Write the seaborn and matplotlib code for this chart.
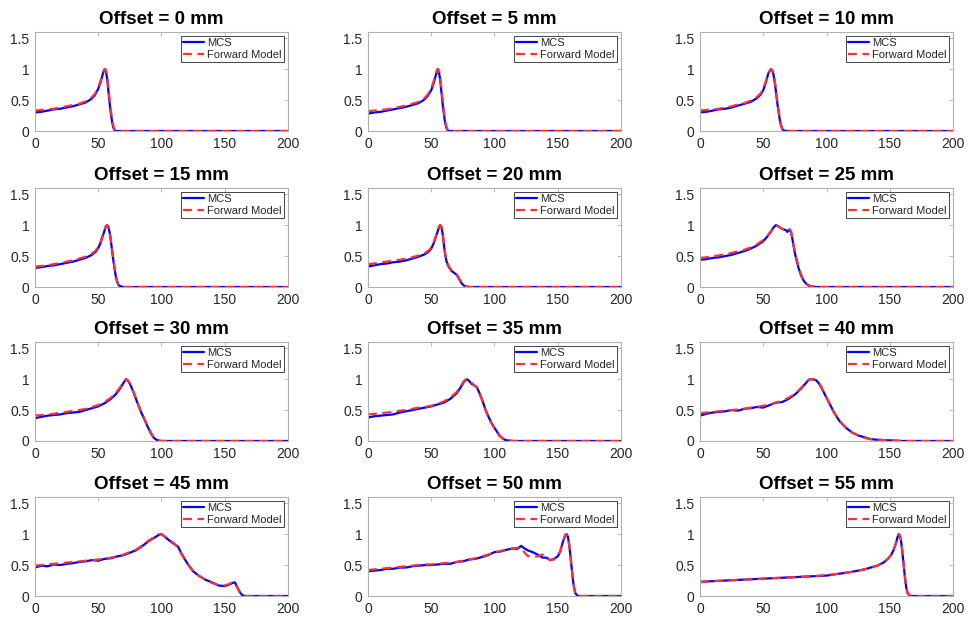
import numpy as np
import pandas as pd
import matplotlib
matplotlib.use("Agg")
import matplotlib.pyplot as plt
import seaborn as sns

sns.set_theme(style="white")
plt.rcParams["font.family"] = ["Liberation Sans", "DejaVu Sans"]

# Depth-dose profiles (depth in mm) for each lateral offset
offsets = [0, 5, 10, 15, 20, 25, 30, 35, 40, 45, 50, 55]

x0 = [0, 5, 10, 15, 20, 25, 30, 35, 40, 44, 47, 50, 52, 54, 55, 56, 57, 58, 59, 60, 61, 62, 63, 64, 66, 70, 100, 150, 200]
mcs0 = [0.30, 0.31, 0.33, 0.35, 0.36, 0.38, 0.40, 0.43, 0.46, 0.51, 0.57, 0.68, 0.80, 0.95, 1.00, 0.97, 0.85, 0.65, 0.45, 0.28, 0.14, 0.05, 0.01, 0, 0, 0, 0, 0, 0]
fm0 = [0.33, 0.34, 0.35, 0.36, 0.38, 0.40, 0.42, 0.44, 0.48, 0.53, 0.59, 0.70, 0.82, 0.96, 1.00, 0.99, 0.90, 0.72, 0.52, 0.33, 0.18, 0.08, 0.02, 0.005, 0, 0, 0, 0, 0]

x5 = [0, 5, 10, 15, 20, 25, 30, 35, 40, 44, 47, 50, 52, 54, 55, 56, 57, 58, 59, 60, 61, 62, 63, 64, 66, 100, 200]
mcs5 = [0.28, 0.30, 0.31, 0.33, 0.35, 0.37, 0.39, 0.42, 0.45, 0.50, 0.56, 0.66, 0.78, 0.93, 1.00, 0.96, 0.84, 0.64, 0.44, 0.27, 0.13, 0.05, 0.01, 0, 0, 0, 0]
fm5 = [0.32, 0.33, 0.34, 0.35, 0.37, 0.39, 0.41, 0.44, 0.47, 0.52, 0.58, 0.69, 0.81, 0.95, 1.00, 0.99, 0.89, 0.70, 0.50, 0.32, 0.17, 0.07, 0.02, 0.005, 0, 0, 0]

x10 = [0, 5, 10, 15, 20, 25, 30, 35, 40, 45, 48, 50, 52, 54, 56, 57, 58, 59, 60, 61, 62, 63, 64, 65, 66, 68, 100, 200]
mcs10 = [0.30, 0.31, 0.33, 0.35, 0.36, 0.38, 0.41, 0.44, 0.47, 0.53, 0.59, 0.66, 0.78, 0.93, 1.00, 0.98, 0.92, 0.80, 0.64, 0.47, 0.32, 0.19, 0.09, 0.03, 0.01, 0, 0, 0]
fm10 = [0.33, 0.34, 0.35, 0.36, 0.38, 0.40, 0.43, 0.45, 0.49, 0.55, 0.61, 0.68, 0.80, 0.94, 1.00, 0.99, 0.94, 0.83, 0.67, 0.50, 0.35, 0.21, 0.11, 0.04, 0.01, 0, 0, 0]

x15 = [0, 5, 10, 15, 20, 25, 30, 35, 40, 45, 48, 50, 52, 54, 56, 57, 58, 59, 60, 61, 62, 63, 64, 65, 66, 68, 70, 100, 200]
mcs15 = [0.31, 0.32, 0.34, 0.35, 0.37, 0.39, 0.41, 0.44, 0.47, 0.52, 0.57, 0.63, 0.72, 0.85, 0.98, 1.00, 0.97, 0.88, 0.74, 0.58, 0.42, 0.28, 0.16, 0.08, 0.03, 0.01, 0, 0, 0]
fm15 = [0.33, 0.34, 0.35, 0.37, 0.39, 0.41, 0.43, 0.46, 0.49, 0.54, 0.59, 0.65, 0.74, 0.87, 0.98, 1.00, 0.98, 0.90, 0.76, 0.60, 0.44, 0.30, 0.18, 0.09, 0.04, 0.01, 0, 0, 0]

x20 = [0, 5, 10, 15, 20, 25, 30, 35, 40, 45, 48, 50, 52, 54, 56, 57, 58, 59, 60, 61, 62, 63, 64, 66, 68, 70, 72, 74, 76, 78, 80, 100, 200]
mcs20 = [0.33, 0.35, 0.37, 0.38, 0.40, 0.41, 0.43, 0.46, 0.49, 0.53, 0.57, 0.62, 0.71, 0.83, 0.96, 1.00, 0.97, 0.86, 0.68, 0.52, 0.42, 0.36, 0.32, 0.26, 0.23, 0.20, 0.13, 0.06, 0.02, 0.005, 0, 0, 0]
fm20 = [0.37, 0.38, 0.40, 0.41, 0.43, 0.44, 0.46, 0.48, 0.51, 0.55, 0.59, 0.64, 0.73, 0.85, 0.97, 1.00, 0.98, 0.88, 0.71, 0.55, 0.44, 0.38, 0.33, 0.27, 0.24, 0.21, 0.14, 0.07, 0.03, 0.01, 0, 0, 0]

x25 = [0, 5, 10, 15, 20, 25, 30, 35, 40, 45, 50, 53, 56, 58, 60, 62, 64, 66, 68, 69, 70, 71, 72, 73, 74, 75, 76, 77, 78, 80, 82, 84, 86, 88, 90, 92, 100, 200]
mcs25 = [0.44, 0.45, 0.47, 0.48, 0.50, 0.52, 0.55, 0.58, 0.62, 0.67, 0.74, 0.81, 0.89, 0.96, 1.00, 0.98, 0.95, 0.93, 0.92, 0.89, 0.91, 0.93, 0.88, 0.78, 0.66, 0.55, 0.46, 0.38, 0.30, 0.18, 0.10, 0.05, 0.02, 0.01, 0.005, 0, 0, 0]
fm25 = [0.47, 0.48, 0.50, 0.51, 0.53, 0.55, 0.58, 0.60, 0.64, 0.69, 0.76, 0.82, 0.90, 0.96, 1.00, 0.98, 0.95, 0.93, 0.92, 0.91, 0.92, 0.93, 0.90, 0.80, 0.68, 0.57, 0.48, 0.40, 0.32, 0.20, 0.11, 0.06, 0.03, 0.01, 0.005, 0, 0, 0]

x30 = [0, 5, 10, 15, 20, 25, 30, 35, 40, 45, 50, 55, 60, 64, 67, 70, 72, 74, 76, 78, 80, 82, 84, 86, 88, 90, 92, 94, 96, 98, 100, 200]
mcs30 = [0.37, 0.39, 0.41, 0.42, 0.43, 0.45, 0.46, 0.47, 0.50, 0.53, 0.56, 0.61, 0.68, 0.76, 0.84, 0.94, 1.00, 0.96, 0.88, 0.78, 0.67, 0.56, 0.46, 0.37, 0.28, 0.19, 0.11, 0.05, 0.02, 0.005, 0, 0]
fm30 = [0.41, 0.42, 0.43, 0.44, 0.46, 0.47, 0.49, 0.50, 0.52, 0.55, 0.58, 0.63, 0.70, 0.78, 0.86, 0.95, 1.00, 0.97, 0.89, 0.79, 0.68, 0.57, 0.47, 0.38, 0.29, 0.20, 0.12, 0.06, 0.02, 0.01, 0, 0]

x35 = [0, 5, 10, 15, 20, 25, 30, 35, 40, 45, 50, 55, 60, 65, 70, 73, 76, 78, 80, 82, 84, 86, 88, 90, 92, 94, 96, 98, 100, 102, 104, 106, 108, 110, 115, 200]
mcs35 = [0.38, 0.40, 0.41, 0.42, 0.43, 0.46, 0.48, 0.50, 0.52, 0.54, 0.56, 0.59, 0.62, 0.68, 0.77, 0.86, 0.96, 1.00, 0.97, 0.92, 0.90, 0.87, 0.78, 0.68, 0.56, 0.45, 0.36, 0.28, 0.21, 0.15, 0.09, 0.05, 0.02, 0.01, 0, 0]
fm35 = [0.43, 0.44, 0.45, 0.46, 0.47, 0.49, 0.50, 0.52, 0.54, 0.55, 0.57, 0.60, 0.64, 0.70, 0.79, 0.88, 0.97, 1.00, 0.99, 0.94, 0.90, 0.86, 0.77, 0.67, 0.55, 0.44, 0.35, 0.27, 0.20, 0.14, 0.08, 0.05, 0.02, 0.01, 0, 0]

x40 = [0, 5, 10, 15, 20, 25, 30, 35, 40, 45, 50, 55, 60, 65, 70, 75, 80, 83, 86, 88, 90, 92, 94, 96, 98, 100, 103, 106, 110, 115, 120, 125, 130, 135, 140, 150, 160, 200]
mcs40 = [0.41, 0.44, 0.46, 0.47, 0.48, 0.50, 0.49, 0.52, 0.53, 0.55, 0.54, 0.58, 0.62, 0.63, 0.68, 0.75, 0.85, 0.92, 0.99, 1.00, 0.99, 0.98, 0.93, 0.86, 0.78, 0.70, 0.58, 0.46, 0.33, 0.22, 0.14, 0.09, 0.06, 0.03, 0.02, 0.01, 0, 0]
fm40 = [0.45, 0.46, 0.47, 0.48, 0.49, 0.50, 0.51, 0.52, 0.54, 0.55, 0.57, 0.59, 0.62, 0.65, 0.70, 0.76, 0.86, 0.93, 0.99, 1.00, 1.00, 0.98, 0.94, 0.87, 0.78, 0.70, 0.58, 0.46, 0.33, 0.22, 0.14, 0.09, 0.05, 0.03, 0.02, 0.01, 0, 0]

x45 = [0, 5, 10, 15, 20, 25, 30, 35, 40, 45, 50, 55, 60, 65, 70, 75, 80, 85, 90, 95, 98, 100, 103, 106, 110, 113, 116, 120, 125, 130, 135, 140, 145, 150, 153, 156, 158, 160, 162, 164, 166, 200]
mcs45 = [0.46, 0.49, 0.48, 0.51, 0.50, 0.52, 0.53, 0.55, 0.56, 0.58, 0.57, 0.60, 0.61, 0.64, 0.66, 0.70, 0.74, 0.81, 0.89, 0.95, 0.99, 1.00, 0.95, 0.90, 0.84, 0.80, 0.68, 0.54, 0.40, 0.32, 0.26, 0.22, 0.17, 0.16, 0.18, 0.21, 0.22, 0.14, 0.06, 0.01, 0, 0]
fm45 = [0.49, 0.50, 0.51, 0.52, 0.53, 0.54, 0.55, 0.56, 0.57, 0.58, 0.59, 0.60, 0.62, 0.64, 0.67, 0.71, 0.75, 0.82, 0.90, 0.96, 1.00, 1.00, 0.96, 0.91, 0.85, 0.78, 0.67, 0.53, 0.40, 0.32, 0.26, 0.21, 0.18, 0.17, 0.19, 0.22, 0.21, 0.13, 0.05, 0.01, 0, 0]

x50 = [0, 5, 10, 15, 20, 25, 30, 35, 40, 45, 50, 55, 60, 65, 70, 75, 80, 85, 90, 95, 100, 105, 110, 115, 118, 121, 123, 126, 130, 134, 138, 141, 144, 147, 150, 152, 154, 156, 157, 158, 159, 160, 161, 162, 163, 164, 166, 200]
mcs50 = [0.40, 0.41, 0.42, 0.44, 0.44, 0.46, 0.46, 0.48, 0.49, 0.50, 0.50, 0.51, 0.52, 0.52, 0.55, 0.56, 0.59, 0.60, 0.63, 0.66, 0.71, 0.72, 0.75, 0.77, 0.76, 0.81, 0.78, 0.74, 0.71, 0.67, 0.62, 0.62, 0.58, 0.60, 0.64, 0.72, 0.87, 0.98, 1.00, 0.96, 0.84, 0.65, 0.45, 0.26, 0.12, 0.04, 0, 0]
fm50 = [0.42, 0.43, 0.44, 0.45, 0.46, 0.47, 0.48, 0.49, 0.50, 0.51, 0.51, 0.52, 0.53, 0.54, 0.55, 0.57, 0.59, 0.61, 0.64, 0.67, 0.70, 0.73, 0.75, 0.77, 0.78, 0.78, 0.72, 0.65, 0.63, 0.64, 0.67, 0.64, 0.58, 0.59, 0.64, 0.73, 0.88, 0.99, 1.00, 0.96, 0.84, 0.66, 0.46, 0.27, 0.13, 0.05, 0, 0]

x55 = [0, 10, 20, 30, 40, 50, 60, 70, 80, 90, 100, 110, 120, 130, 135, 140, 145, 148, 151, 153, 155, 156, 157, 158, 159, 160, 161, 162, 163, 164, 166, 200]
mcs55 = [0.23, 0.24, 0.25, 0.26, 0.27, 0.28, 0.29, 0.30, 0.31, 0.32, 0.33, 0.36, 0.39, 0.43, 0.46, 0.49, 0.54, 0.59, 0.66, 0.74, 0.86, 0.94, 1.00, 0.98, 0.88, 0.70, 0.50, 0.30, 0.14, 0.05, 0, 0]
fm55 = [0.22, 0.24, 0.25, 0.26, 0.27, 0.28, 0.29, 0.30, 0.31, 0.32, 0.34, 0.36, 0.39, 0.43, 0.46, 0.49, 0.54, 0.59, 0.66, 0.74, 0.86, 0.94, 1.00, 0.98, 0.89, 0.72, 0.52, 0.32, 0.15, 0.06, 0, 0]

depths = [x0, x5, x10, x15, x20, x25, x30, x35, x40, x45, x50, x55]
mcs_curves = [mcs0, mcs5, mcs10, mcs15, mcs20, mcs25, mcs30, mcs35, mcs40, mcs45, mcs50, mcs55]
fm_curves = [fm0, fm5, fm10, fm15, fm20, fm25, fm30, fm35, fm40, fm45, fm50, fm55]

x_ticks = [0, 50, 100, 150, 200]
y_ticks = [0, 0.5, 1, 1.5]
y_tick_labels = ["0", "0.5", "1", "1.5"]

W, H = 970, 621
fig = plt.figure(figsize=(W / 100, H / 100), dpi=100)
fig.patch.set_facecolor("white")

col_left = [35, 368, 700]
row_top = [32, 188, 342, 497]
ax_w, ax_h = 253, 99

for i, off in enumerate(offsets):
    r, c = divmod(i, 3)
    ax = fig.add_axes([col_left[c] / W, 1 - (row_top[r] + ax_h) / H, ax_w / W, ax_h / H])
    df = pd.DataFrame({"depth": depths[i], "MCS": mcs_curves[i], "Forward Model": fm_curves[i]})
    sns.lineplot(data=df, x="depth", y="MCS", ax=ax, color="#0000FF", linewidth=1.6,
                 estimator=None, sort=False, label="MCS")
    sns.lineplot(data=df, x="depth", y="Forward Model", ax=ax, color="#FF3030", linewidth=1.6,
                 estimator=None, sort=False, label="Forward Model")
    ax.lines[-1].set_dashes([4, 2.5])
    ax.set_xlim(0, 200)
    ax.set_ylim(0, 1.6)
    ax.set_xticks(x_ticks)
    ax.set_yticks(y_ticks)
    ax.set_yticklabels(y_tick_labels)
    ax.set_xlabel("")
    ax.set_ylabel("")
    ax.tick_params(direction="in", length=3, width=0.6, colors="#b0b0b0",
                   labelcolor="#262626", labelsize=10, top=True, right=True)
    ax.tick_params(axis="x", pad=4)
    ax.tick_params(axis="y", pad=4)
    for s in ax.spines.values():
        s.set_color("#b0b0b0")
        s.set_linewidth(0.8)
    ax.set_title(f"Offset = {off} mm", fontsize=13.5, fontweight="bold", color="black", pad=6)
    leg = ax.legend(loc="upper right", fontsize=8, frameon=True, fancybox=False,
                    framealpha=1, edgecolor="#262626", handlelength=1.9, handletextpad=0.3,
                    labelspacing=0.15, borderpad=0.2, borderaxespad=0.35)
    leg.get_frame().set_linewidth(0.6)
    leg.get_lines()[1].set_dashes([4, 2.5])

fig.savefig("out.png", dpi=100, facecolor="white")
